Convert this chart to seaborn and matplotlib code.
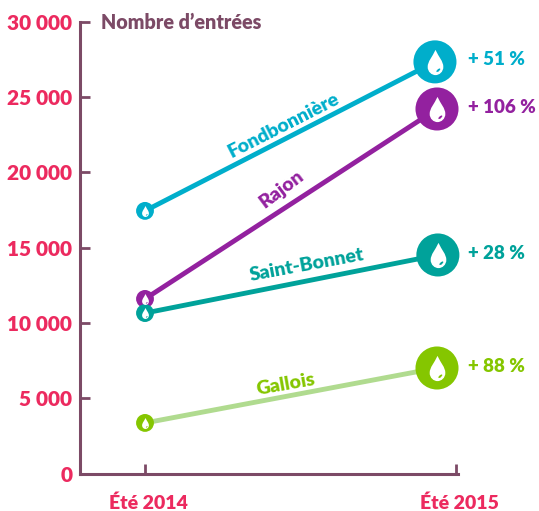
import pandas as pd
import matplotlib
matplotlib.use("Agg")
import matplotlib.pyplot as plt
from matplotlib.path import Path
from matplotlib.transforms import ScaledTranslation
import seaborn as sns

# data
villes = ["Fondbonnière", "Rajon", "Saint-Bonnet", "Gallois"]
entrees_2014 = [17450, 11600, 10660, 3360]
entrees_2015 = [27350, 24220, 14520, 7010]
pos_2015 = [0.993, 1.0, 1.003, 1.0]
evolution = ["+ 51 %", "+ 106 %", "+ 28 %", "+ 88 %"]
y_ticks = [0, 5000, 10000, 15000, 20000, 25000, 30000]
y_labels = ["0", "5 000", "10 000", "15 000", "20 000", "25 000", "30 000"]
x_ticks = [0, 1.065]
x_labels = ["Été 2014", "Été 2015"]

couleur_ligne = ["#00AECB", "#93219F", "#00A29A", "#B0DB8F"]
couleur_point = ["#00AECB", "#93219F", "#00A29A", "#85C600"]
ROSE = "#EC2A5F"
AXE = "#7C4A66"

sns.set_theme(style="white")
plt.rcParams["font.family"] = ["Lato", "DejaVu Sans"]
plt.rcParams["font.weight"] = "heavy"

# goutte d'eau pour les marqueurs, avec un petit reflet
contour = Path(
    [(0, 1), (-0.25, 0.45), (-0.62, 0.1), (-0.62, -0.35),
     (-0.62, -0.75), (-0.3, -1), (0, -1),
     (0.3, -1), (0.62, -0.75), (0.62, -0.35),
     (0.62, 0.1), (0.25, 0.45), (0, 1), (0, 1)],
    [Path.MOVETO, Path.CURVE4, Path.CURVE4, Path.CURVE4,
     Path.CURVE4, Path.CURVE4, Path.CURVE4,
     Path.CURVE4, Path.CURVE4, Path.CURVE4,
     Path.CURVE4, Path.CURVE4, Path.CURVE4, Path.CLOSEPOLY],
)
reflet = Path(
    [(0.06, -0.68), (0.2, -0.52), (0.36, -0.46), (0.38, -0.56),
     (0.24, -0.72), (0.1, -0.76), (0.06, -0.68)],
    closed=True,
)
goutte = Path.make_compound_path(contour, reflet)

rows = []
for i, v in enumerate(villes):
    rows.append({"ville": v, "x": 0, "entrees": entrees_2014[i]})
    rows.append({"ville": v, "x": pos_2015[i], "entrees": entrees_2015[i]})
df = pd.DataFrame(rows)
palette_ligne = dict(zip(villes, couleur_ligne))
palette_point = dict(zip(villes, couleur_point))

W, H = 539, 511
fig = plt.figure(figsize=(W / 100, H / 100), dpi=100)
ax = fig.add_axes([80 / W, 1 - 473.5 / H, 378 / W, 451.5 / H])

sns.lineplot(data=df, x="x", y="entrees", hue="ville", palette=palette_ligne,
             estimator=None, sort=False, linewidth=3.5, legend=False, ax=ax, zorder=2)

debut = df[df["x"] == 0]
fin = df[df["x"] != 0]
sns.scatterplot(data=debut, x="x", y="entrees", hue="ville", palette=palette_point,
                s=165, linewidth=0, legend=False, ax=ax, zorder=3, clip_on=False)
sns.scatterplot(data=fin, x="x", y="entrees", hue="ville", palette=palette_point,
                s=960, linewidth=0, legend=False, ax=ax, zorder=3, clip_on=False)
sns.scatterplot(data=debut, x="x", y="entrees", color="white", marker=goutte,
                s=62, linewidth=0, legend=False, ax=ax, zorder=4)
sns.scatterplot(data=fin, x="x", y="entrees", color="white", marker=goutte,
                s=330, linewidth=0, legend=False, ax=ax, zorder=4, clip_on=False)

# noms le long des lignes
noms = {"Fondbonnière": (0.475, 23150, 27), "Rajon": (0.467, 18930, 37),
        "Saint-Bonnet": (0.554, 13850, 10.5), "Gallois": (0.482, 5950, 10)}
for i, v in enumerate(villes):
    xt, yt, rot = noms[v]
    ax.text(xt, yt, v, color=couleur_point[i], fontsize=14, rotation=rot,
            rotation_mode="anchor", ha="center", va="center")
    ax.text(1.107, entrees_2015[i] + 130, evolution[i], color=couleur_point[i],
            fontsize=13.5, ha="left", va="center", clip_on=False)

ax.text(-0.15, 29950, "Nombre d’entrées", color=AXE, fontsize=14.2,
        ha="left", va="center", clip_on=False)

ax.set_xlim(-65 / 292, 313 / 292)
ax.set_ylim(0, 30000)
ax.set_xticks(x_ticks, x_labels)
ax.set_yticks(y_ticks, y_labels)
ax.set_xlabel("")
ax.set_ylabel("")
ax.tick_params(axis="y", direction="in", length=7, width=2, color=AXE,
               labelcolor=ROSE, labelsize=15, pad=5.5, left=True)
ax.tick_params(axis="x", direction="in", length=7, width=2, color=AXE,
               labelcolor=ROSE, labelsize=14, pad=15, bottom=True)
for lab in ax.get_xticklabels():
    lab.set_transform(lab.get_transform() + ScaledTranslation(3 / 100, 0, fig.dpi_scale_trans))
sns.despine(ax=ax)
for s in ["left", "bottom"]:
    ax.spines[s].set_color(AXE)
    ax.spines[s].set_linewidth(2.2)
ax.patch.set_alpha(0)

fig.savefig("out.png", dpi=100)
